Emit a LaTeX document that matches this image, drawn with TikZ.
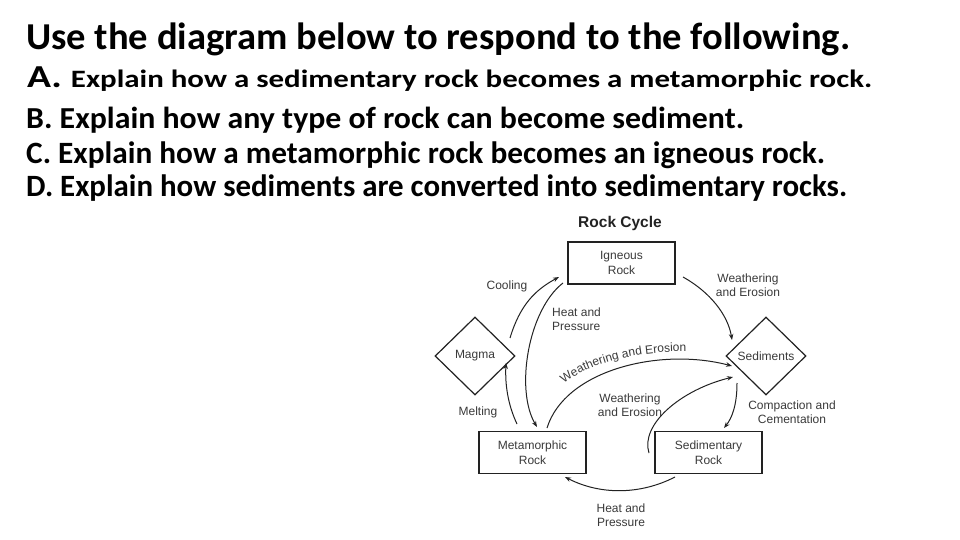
\documentclass[tikz,border=0pt]{standalone}
\usepackage{fontspec}
\usepackage{graphicx}
\usetikzlibrary{arrows.meta,shapes.geometric,decorations.text}
\newfontfamily\slidefont{Carlito}
\newfontfamily\diagfont{Liberation Sans}
\definecolor{diagtext}{HTML}{3A3A3A}
\definecolor{diagline}{HTML}{222222}
\begin{document}
\begin{tikzpicture}[x=1pt,y=1pt,
  rockbox/.style={draw=diagline, line width=1.2pt, minimum width=107pt, minimum height=42pt, inner sep=0pt, align=center, font=\diagfont\fontsize{12}{14.5}\selectfont, text=diagtext},
  rockdiamond/.style={diamond, draw=diagline, line width=1.2pt, minimum width=80pt, minimum height=78pt, inner sep=0pt, font=\diagfont\fontsize{12}{14}\selectfont, text=diagtext},
  lbl/.style={font=\diagfont\fontsize{12}{14}\selectfont, text=diagtext, align=center, inner sep=0pt},
  flow/.style={draw=diagline, line width=1pt, -{Stealth[length=6pt,width=4.5pt]}},
  slide/.style={anchor=base west, inner sep=0pt, font=\slidefont\bfseries}
]
\useasboundingbox (0,0) rectangle (960,-540);
\fill[white] (0,0) rectangle (960,-540);

% slide text
\node[slide] (t0) at (26,-49.3) {\resizebox{824pt}{\height}{\fontsize{38}{40}\selectfont Use the diagram below to respond to the following.}};
\node[slide] (tA) at (27,-87.5) {\resizebox{845pt}{\height}{\fontsize{32}{34}\selectfont A. \fontsize{25}{27}\selectfont Explain how a sedimentary rock becomes a metamorphic rock.}};
\node[slide] (tB) at (26,-128.3) {\resizebox{718pt}{\height}{\fontsize{30.5}{32}\selectfont B. Explain how any type of rock can become sediment.}};
\node[slide] (tC) at (26,-163.3) {\resizebox{799pt}{\height}{\fontsize{31}{33}\selectfont C. Explain how a metamorphic rock becomes an igneous rock.}};
\node[slide] (tD) at (26,-196.7) {\resizebox{821pt}{\height}{\fontsize{31}{33}\selectfont D. Explain how sediments are converted into sedimentary rocks.}};

% diagram
\node[font=\diagfont\bfseries\fontsize{15.5}{16}\selectfont, text=diagline, inner sep=0pt] (title) at (620,-223) {Rock Cycle};

\node[rockbox] (ign) at (621.5,-263) {Igneous\\Rock};
\node[rockbox] (met) at (532.5,-452.5) {Metamorphic\\Rock};
\node[rockbox] (sed) at (708.5,-452.5) {Sedimentary\\Rock};
\node[rockdiamond] (mag) at (475,-356) {Magma};
\node[rockdiamond] (sedi) at (766,-356) {Sediments};

% connector end points
\coordinate (c1s) at (510,-338);
\coordinate (c1e) at (559,-277);
\coordinate (c2s) at (563,-283);
\coordinate (c2e) at (537,-427);
\coordinate (c3s) at (683,-277);
\coordinate (c3e) at (732,-340);
\coordinate (c4s) at (547,-428);
\coordinate (c4e) at (732,-366);
\coordinate (c5s) at (649,-453);
\coordinate (c5e) at (733,-377);
\coordinate (c6s) at (737,-383);
\coordinate (c6e) at (724,-428);
\coordinate (c7s) at (517,-424);
\coordinate (c7e) at (506,-363);
\coordinate (c8s) at (675,-477);
\coordinate (c8e) at (565,-477);

\draw[flow] (c1s) .. controls (520,-305) and (535,-290) .. (c1e);
\draw[flow] (c2s) .. controls (528,-310) and (515,-390) .. (c2e);
\draw[flow] (c3s) .. controls (710,-292) and (728,-315) .. (c3e);
\draw[flow] (c4s) .. controls (565,-370) and (660,-347) .. (c4e);
\draw[flow] (c5s) .. controls (640,-425) and (680,-390) .. (c5e);
\draw[flow] (c6s) .. controls (737,-405) and (732,-418) .. (c6e);
\draw[flow] (c7s) .. controls (508,-405) and (505,-385) .. (c7e);
\draw[flow] (c8s) .. controls (640,-495) and (600,-495) .. (c8e);

% labels
\node[lbl] (lcool) at (507,-286) {Cooling};
\node[lbl] (lwe1) at (748,-285) {Weathering\\and Erosion};
\node[lbl, align=left, anchor=west] (lhp1) at (552,-319) {Heat and\\Pressure};
\node[lbl] (lwe2) at (630,-405) {Weathering\\and Erosion};
\node[lbl] (lmelt) at (478,-412) {Melting};
\node[lbl] (lcomp) at (792,-412) {Compaction and\\Cementation};
\node[lbl] (lhp2) at (621,-515) {Heat and\\Pressure};

\path[decorate, decoration={text along path, text align=left,
  text={|\diagfont\fontsize{12}{12}\selectfont\color{diagtext}|Weathering and Erosion}}]
  (564,-384) .. controls (590,-362) and (642,-349) .. (702,-352);
\end{tikzpicture}
\end{document}
